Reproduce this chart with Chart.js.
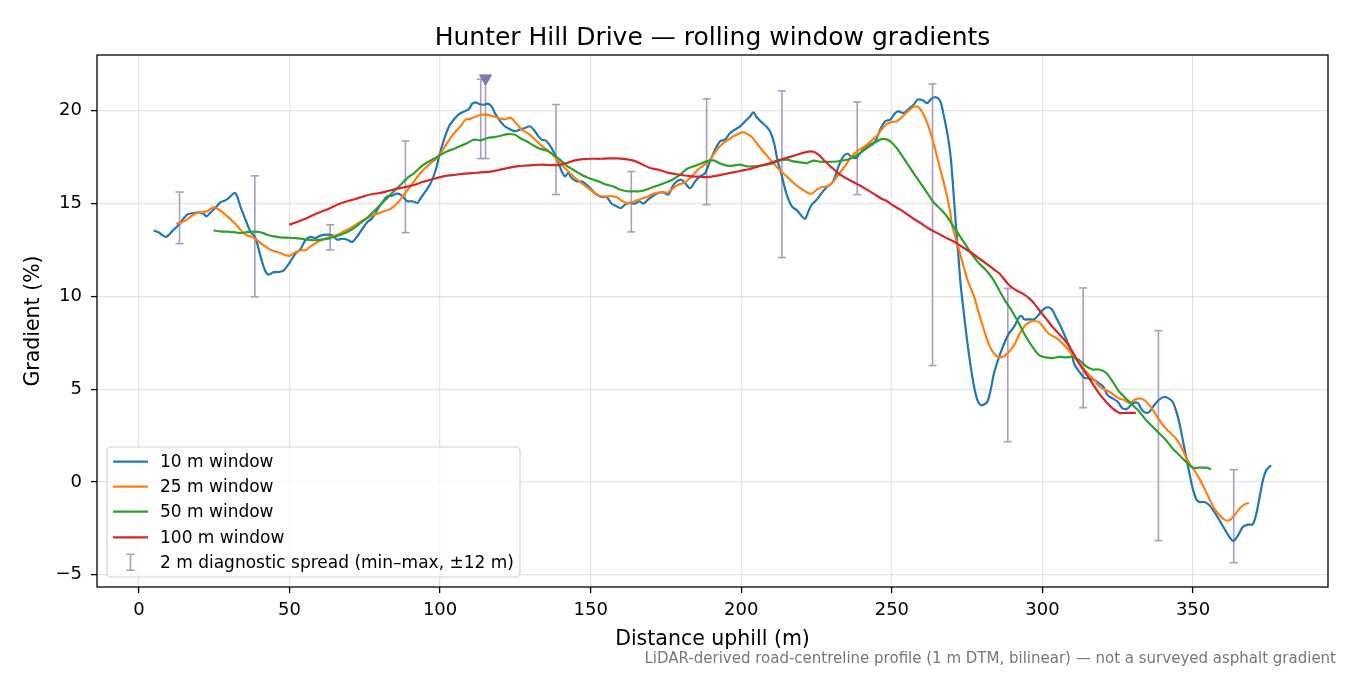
<!DOCTYPE html>
<html>
<head>
<meta charset="utf-8">
<script src="https://cdn.jsdelivr.net/npm/chart.js@4.4.1/dist/chart.umd.min.js"></script>
<style>
  html, body { margin: 0; padding: 0; background: #fff; }
  #wrap { width: 1350px; height: 675px; }
</style>
</head>
<body>
<div id="wrap"><canvas id="c" width="1350" height="675"></canvas></div>
<script>
// ---------------- DATA ----------------
const titleText = "Hunter Hill Drive \u2014 rolling window gradients";
const xAxisTitle = "Distance uphill (m)";
const yAxisTitle = "Gradient (%)";
const footerText = "LiDAR-derived road-centreline profile (1 m DTM, bilinear) \u2014 not a surveyed asphalt gradient";

const xTicks = [0, 50, 100, 150, 200, 250, 300, 350];
const yTicks = [-5, 0, 5, 10, 15, 20];

const seriesNames = ["10 m window", "25 m window", "50 m window", "100 m window"];
const errName = "2 m diagnostic spread (min\u2013max, \u00b112 m)";

const w10X = [4.9,6.5,9.0,11,13.5,16,18.2,19.8,21.5,22.4,23.7,25.4,27,28.7,30.2,31.8,32.6,33.7,35.4,37,38.7,40.4,42,43.1,44.8,46.5,48.1,50.1,52,53.7,55.3,57,58.6,60.3,62.5,64.2,65.9,67.5,69.2,70.8,72.5,74.2,75.8,77.5,79.2,80.8,82.5,84.1,85.6,86.9,88,89.1,90.8,92.5,93.6,95.2,96.9,98.6,99.7,101.3,103,104.7,106.3,108,109.6,110.7,111.8,112.9,114.6,115.7,117.1,118.2,119.6,121.5,123.2,124.9,126.5,128.2,129.8,131,132.3,133.7,135,136.3,137.6,138.9,140.4,141.5,142.6,143.7,145.4,147,148.7,150.3,152,153.7,155.3,157,158.6,160,161.4,163.1,164.7,166.2,167.5,169.2,170.8,172.5,174.1,175.8,177.2,178.6,180.2,181.3,183,184.7,186.3,188,189.6,191.3,193,194.6,196.3,197.9,199.6,201.3,202.9,204,205.1,206.8,208.5,209.8,210.9,212,213.5,215.1,216.8,218.5,220.1,221.2,222.3,223.4,225.1,226.7,228.4,230.1,231.2,232.3,233.9,235.3,236.7,238.2,239.5,241.1,242.8,244.5,246.1,247.8,249.5,251.1,252.2,253.9,255.5,257.2,258.6,260.2,261.7,263.2,264.7,266.1,267.3,268.4,269.5,270.4,271.2,272.1,272.8,273.9,275.1,276.2,277.3,278.4,279.5,280.6,281.7,282.8,283.9,285.6,287.3,288.9,290.6,292.2,293.1,293.9,295.6,297.2,298.7,300,301.7,303.1,304.4,306.1,307.8,309.4,310.5,312.2,313.9,315.5,317.2,318.8,320.2,321.6,323.3,325,326.6,328.3,329.9,331.6,332.7,334,335.5,337.1,338.8,340.5,341.9,343.2,344.3,345.5,346.6,347.7,348.8,349.9,351,352.1,353.8,355.4,357.1,358.8,360.4,362.1,363.4,364.9,366.5,368.2,369.8,371,372.1,373.2,374.3,375.9];
const w10Y = [13.55,13.45,13.2,13.5,13.9,14.4,14.49,14.52,14.45,14.3,14.5,14.76,15.06,15.17,15.35,15.57,15.39,14.85,14.13,13.5,13.14,12.15,11.35,11.17,11.3,11.31,11.4,11.83,12.3,12.55,13.02,13.2,13.14,13.27,13.32,13.29,13.05,13.1,13.05,12.93,13.23,13.63,13.99,14.22,14.67,15.06,15.39,15.42,15.53,15.48,15.3,15.12,15.12,15.03,15.3,15.66,16.1,16.82,17.54,18.44,19.16,19.55,19.82,19.96,20.09,20.38,20.45,20.36,20.32,20.38,20.23,19.87,19.52,19.16,19.0,18.89,18.98,19.07,19.16,19.0,18.7,18.44,18.4,18.17,17.81,17.36,16.73,16.46,16.64,16.37,16.19,16.19,16.01,15.75,15.48,15.35,15.35,14.99,14.85,14.76,14.94,15.03,14.99,15.12,14.99,15.24,15.42,15.57,15.6,15.48,15.92,16.19,16.28,16.1,15.83,16.19,16.46,16.64,17.27,17.9,18.35,18.44,18.8,18.98,19.16,19.43,19.69,19.91,19.66,19.37,19.12,18.8,18.26,17.36,16.46,15.48,14.85,14.63,14.31,14.17,14.58,14.94,15.21,15.57,15.89,16.1,16.46,17.0,17.54,17.68,17.5,17.45,17.72,17.99,18.17,18.35,18.98,19.43,19.52,19.87,19.96,19.87,20.09,20.32,20.6,20.56,20.41,20.65,20.72,20.5,19.69,18.79,17.54,15.74,13.94,12.14,10.7,9.08,7.46,6.2,5.13,4.41,4.14,4.17,4.32,4.95,5.85,6.74,7.46,8.0,8.36,8.87,8.94,8.76,8.76,8.76,8.99,9.26,9.41,9.3,8.9,8.36,7.73,7.1,6.38,5.94,5.61,5.58,5.49,5.31,5.13,4.68,4.5,4.32,3.96,3.96,4.23,4.26,3.96,3.74,3.78,4.14,4.44,4.59,4.5,4.32,3.87,3.15,2.25,1.35,0.45,-0.36,-0.9,-1.08,-1.08,-1.26,-1.62,-2.07,-2.52,-2.97,-3.18,-2.88,-2.43,-2.3,-2.28,-1.71,-0.81,0.09,0.63,0.9];

const w25X = [12.4,14.3,16,17.6,19.3,21,22.6,24.3,25.4,27.1,28.7,30.4,32,33.7,35.4,37,38.7,40.4,42,43.7,45.3,47,48.7,50.1,52,53.7,55.3,57,59.2,61.4,63.6,65.9,68.1,70.3,72.5,74.7,76.9,79.2,81.4,83,84.7,86.4,88,89.7,91.4,93,94.7,96.9,99.1,101.3,103.5,105.2,106.9,108.5,110.2,111.9,113.5,115.7,117.9,120.1,121.8,123.5,125.4,127.1,128.7,130.4,132.1,133.7,135.4,137,138.7,140.4,142,143.7,145.3,147,148.7,150.3,152,153.7,155.3,157,158.6,160.3,162,163.6,165.3,166.9,168.6,170.3,171.9,174.1,175.8,177.5,179.1,180.8,182.4,184.1,185.8,187.4,189.1,190.8,192.4,194.1,195.8,197.4,199.1,200.5,201.9,203.5,205.1,206.8,208.5,210.1,211.8,213.5,215.1,216.8,218.4,220.1,221.8,223.4,225.1,226.7,228.4,230.1,231.7,233.4,235.1,236.7,238.4,240.1,241.7,243.4,245.1,246.7,248.3,250,251.7,253.3,255,256.7,258.3,259.6,261.1,262.7,264.4,266.1,267.8,269.2,270.1,271.7,273.4,275.1,277.3,278.9,280.6,282.3,283.9,285.6,287.3,288.9,290.6,292.2,293.9,295.6,297.2,298.9,300.6,302.2,303.9,305.5,307.2,308.9,310.5,312.2,313.9,315.5,317.2,318.8,320.5,322.2,323.8,325.5,327.2,328.8,330.5,332.2,333.8,335.5,337.1,338.8,340.5,342.1,343.8,345.5,347.1,348.8,350.4,352.1,353.8,355.4,357.1,358.8,360.4,362.1,363.7,365.4,367.1,368.5];
const w25Y = [13.91,13.99,14.13,14.34,14.49,14.52,14.58,14.76,14.78,14.61,14.4,14.16,13.91,13.59,13.32,13.23,13.09,12.87,12.69,12.51,12.42,12.33,12.21,12.19,12.37,12.48,12.48,12.69,12.91,13.09,13.2,13.32,13.5,13.68,13.91,14.13,14.31,14.45,14.58,14.67,14.85,15.12,15.48,15.83,16.19,16.55,16.86,17.18,17.45,17.99,18.53,18.89,19.19,19.52,19.57,19.69,19.78,19.77,19.69,19.57,19.55,19.62,19.3,18.98,18.83,18.62,18.35,18.11,17.9,17.68,17.4,17.09,16.82,16.55,16.32,16.1,15.89,15.69,15.48,15.39,15.39,15.39,15.35,15.15,15.03,15.06,15.17,15.26,15.35,15.48,15.57,15.6,15.6,15.83,16.01,16.1,16.28,16.55,16.86,17.04,17.27,17.63,17.99,18.26,18.44,18.62,18.76,18.83,18.76,18.58,18.26,17.9,17.58,17.27,16.97,16.68,16.46,16.19,15.96,15.78,15.6,15.53,15.75,15.89,15.92,16.1,16.43,16.79,17.18,17.54,17.81,17.99,18.17,18.4,18.65,19.01,19.28,19.39,19.43,19.65,19.92,20.15,20.23,20.05,19.6,18.89,17.9,16.82,15.75,14.7,13.76,12.86,11.87,10.88,9.98,9.08,8.18,7.37,6.92,6.71,6.78,7.01,7.37,7.91,8.36,8.6,8.67,8.6,8.27,7.97,7.82,7.64,7.37,7.07,6.74,6.38,6.06,5.76,5.49,5.16,4.98,4.86,4.68,4.5,4.41,4.26,4.41,4.5,4.41,4.14,3.78,3.33,2.97,2.7,2.43,2.07,1.53,0.99,0.63,0.18,-0.36,-0.9,-1.44,-1.8,-2.03,-2.07,-1.8,-1.44,-1.21,-1.12];

const w50X = [24.8,27.1,29.3,31.5,33.7,35.9,38.1,40.4,42.6,44.8,47,49.2,51.4,53.7,55.9,58.1,60.3,62.5,64.7,67,69.2,71.4,73.6,75.8,78,80.3,82.5,84.7,86.9,89.1,91.4,93.6,95.8,98,100.2,102.4,104.7,106.9,109.1,111.3,113.5,115.7,117.9,120.2,122.5,124.9,126.5,128.7,131,133.2,135.4,137.6,139.8,142,144.2,146.5,148.7,150.9,153.1,155.3,157.5,159.7,162,164.2,166.4,168.6,170.8,173,175.2,177.5,179.7,181.9,184.1,186.3,188.5,190.8,193,195.2,197.4,199.6,201.8,204,206.3,208.5,210.7,212.9,215.1,217.3,219.5,221.8,224,226.2,228.4,230.6,232.8,235.1,237.3,239.5,241.7,243.9,246.1,247.8,249.5,251.1,252.8,255,257.2,259.5,261.7,263.9,266.1,268.3,270.1,272.3,274.5,276.7,278.9,281.2,283.4,285.6,287.8,290,292.2,294.5,296.7,298.9,301.1,303.3,305.5,307.8,310,312.2,314.4,316.6,318.8,321.1,323.3,325.5,327.7,329.9,332.2,334.4,336.6,338.8,341,343.2,345.5,347.7,349.9,352.1,354.3,356];
const w50Y = [13.55,13.5,13.48,13.46,13.41,13.46,13.48,13.45,13.32,13.23,13.18,13.16,13.14,13.11,13.05,13.02,13.05,13.09,13.2,13.32,13.46,13.68,13.95,14.22,14.58,14.94,15.3,15.66,16.01,16.37,16.64,16.97,17.22,17.41,17.63,17.81,17.95,18.11,18.26,18.44,18.4,18.53,18.58,18.65,18.74,18.7,18.53,18.35,18.13,17.95,17.85,17.63,17.36,17.04,16.82,16.59,16.41,16.28,16.16,16.01,15.92,15.75,15.66,15.66,15.66,15.75,15.89,16.01,16.14,16.32,16.55,16.86,17.0,17.13,17.27,17.32,17.15,17.04,17.04,17.09,17.0,17.0,17.04,17.09,17.18,17.32,17.36,17.27,17.22,17.18,17.31,17.25,17.25,17.25,17.29,17.36,17.5,17.72,17.99,18.22,18.44,18.47,18.35,18.08,17.72,17.18,16.64,16.1,15.57,15.06,14.7,14.3,13.85,13.31,12.77,12.23,11.78,11.42,10.97,10.34,9.71,9.17,8.54,7.82,7.28,6.83,6.71,6.67,6.74,6.71,6.74,6.56,6.24,6.06,6.06,5.88,5.4,4.86,4.5,4.14,3.78,3.33,2.97,2.61,2.25,1.8,1.44,1.08,0.77,0.77,0.77,0.68];

const w100X = [49.9,52.5,55.3,58.1,60.9,63.6,66.4,69.2,72,74.7,77.5,80.3,83,85.8,88.6,91.4,94.1,96.9,99.7,102.4,105.2,108,110.8,113.5,116.3,119.1,121.8,125.4,128.2,131,133.7,136.5,139.3,142,144.8,147.6,150.3,153.1,155.9,158.6,161.4,164.2,166.9,169.7,172.5,175.2,178,180.8,183.5,186.3,189.1,191.9,194.6,197.4,200.2,202.9,205.7,208.5,211.2,214,216.8,219.5,222.3,224,225.6,227.3,229,230.6,232.8,235.1,237.3,239.5,241.7,243.9,246.1,248.4,250.6,252.8,255,257.2,259.5,261.7,263.9,266.1,268.8,270.1,272.3,274.5,276.7,278.9,281.2,283.4,285.6,287.3,288.9,291.1,293.3,295.6,297.2,298.9,301.1,303.3,305.5,307.8,310,312.2,314.4,316.6,318.8,321.1,323.3,325.5,327.7,329.9,331];
const w100Y = [13.86,14.0,14.18,14.4,14.58,14.76,14.97,15.12,15.24,15.39,15.51,15.57,15.69,15.8,15.89,16.0,16.16,16.28,16.41,16.5,16.55,16.61,16.64,16.68,16.7,16.79,16.89,17.0,17.04,17.07,17.09,17.07,17.07,17.18,17.32,17.39,17.41,17.41,17.43,17.43,17.39,17.31,17.13,16.91,16.82,16.68,16.59,16.52,16.46,16.43,16.43,16.5,16.59,16.68,16.77,16.86,17.0,17.13,17.27,17.41,17.54,17.68,17.79,17.79,17.63,17.36,17.09,16.86,16.55,16.34,16.14,15.96,15.75,15.53,15.3,15.12,14.88,14.67,14.43,14.18,13.95,13.71,13.5,13.32,13.09,12.99,12.77,12.54,12.32,12.05,11.78,11.51,11.24,10.92,10.61,10.34,10.16,9.89,9.62,9.26,8.81,8.36,7.97,7.55,7.01,6.38,5.84,5.31,4.77,4.32,3.96,3.72,3.72,3.72,3.72];

// 2 m diagnostic spread (min / max), every 25 m plus the steepest point
const errX  = [13.5, 38.5, 63.5, 88.5, 113.5, 115.1, 138.5, 163.5, 188.5, 213.5, 238.5, 263.5, 288.5, 313.5, 338.5, 363.5];
const errLo = [12.84, 9.97, 12.5, 13.43, 17.42, 17.42, 15.48, 13.47, 14.94, 12.09, 15.48, 6.27, 2.17, 4.0, -3.16, -4.35];
const errHi = [15.62, 16.49, 13.85, 18.37, 21.7, 21.7, 20.33, 16.72, 20.64, 21.07, 20.47, 21.44, 10.43, 10.45, 8.15, 0.66];

const peakX = [115.1];
const peakY = [21.74];

const xMin = -13.9, xMax = 394.8;
const yMin = -5.66, yMax = 23.0;

// ---------------- STYLE ----------------
const FONT = "'DejaVu Sans', sans-serif";
const colors = ["#1f77b4", "#ff7f0e", "#2ca02c", "#d62728"];
const errColor = "#a99dc5";
const peakColor = "#8877aa";

function pts(xs, ys) { return xs.map((x, i) => ({ x: x, y: ys[i] })); }
function errPts() {
  const out = [];
  errX.forEach((x, i) => {
    out.push({ x: x, y: errLo[i] });
    out.push({ x: x, y: errHi[i] });
    out.push({ x: x, y: null });
  });
  return out;
}
function fmt(v) { return v < 0 ? "\u2212" + Math.abs(v) : String(v); }

const lineSets = [[w10X, w10Y], [w25X, w25Y], [w50X, w50Y], [w100X, w100Y]].map((s, i) => ({
  label: seriesNames[i],
  data: pts(s[0], s[1]),
  borderColor: colors[i],
  backgroundColor: colors[i],
  borderWidth: 2.2,
  pointRadius: 0,
  tension: 0.3,
  fill: false,
  order: 4 - i
}));

const errSet = {
  label: errName,
  data: errPts(),
  borderColor: errColor,
  backgroundColor: errColor,
  borderWidth: 1.6,
  pointStyle: "line",
  pointRadius: 4,
  pointBorderWidth: 1.6,
  pointBorderColor: errColor,
  spanGaps: false,
  tension: 0,
  order: 10
};

const peakSet = {
  label: "steepest",
  data: pts(peakX, peakY),
  showLine: false,
  pointStyle: "triangle",
  rotation: 180,
  pointRadius: 7,
  backgroundColor: peakColor,
  borderColor: peakColor,
  borderWidth: 1,
  order: 0
};

const framePlugin = {
  id: "frame",
  afterDatasetsDraw(chart) {
    const { ctx, chartArea: a } = chart;
    ctx.save();
    ctx.strokeStyle = "#000";
    ctx.lineWidth = 1.3;
    ctx.strokeRect(a.left, a.top, a.right - a.left, a.bottom - a.top);
    ctx.restore();
  }
};

const legendPlugin = {
  id: "mplLegend",
  afterDraw(chart) {
    const ctx = chart.ctx;
    const bx = 107, by = 447, bw = 413, bh = 130, r = 4;
    ctx.save();
    ctx.beginPath();
    ctx.moveTo(bx + r, by);
    ctx.arcTo(bx + bw, by, bx + bw, by + bh, r);
    ctx.arcTo(bx + bw, by + bh, bx, by + bh, r);
    ctx.arcTo(bx, by + bh, bx, by, r);
    ctx.arcTo(bx, by, bx + bw, by, r);
    ctx.closePath();
    ctx.fillStyle = "rgba(255,255,255,0.8)";
    ctx.fill();
    ctx.strokeStyle = "#d4d4d4";
    ctx.lineWidth = 1.2;
    ctx.stroke();
    const rows = [461.7, 486.7, 511.7, 537.3, 562.3];
    ctx.font = "17px " + FONT;
    ctx.textBaseline = "middle";
    ctx.fillStyle = "#000";
    seriesNames.forEach((n, i) => {
      ctx.beginPath();
      ctx.moveTo(113, rows[i]);
      ctx.lineTo(148, rows[i]);
      ctx.strokeStyle = colors[i];
      ctx.lineWidth = 2.2;
      ctx.stroke();
      ctx.fillText(n, 160, rows[i] + 1);
    });
    const ey = rows[4];
    ctx.strokeStyle = errColor;
    ctx.lineWidth = 1.6;
    ctx.beginPath();
    ctx.moveTo(130.5, ey - 8); ctx.lineTo(130.5, ey + 8);
    ctx.moveTo(126.5, ey - 8); ctx.lineTo(134.5, ey - 8);
    ctx.moveTo(126.5, ey + 8); ctx.lineTo(134.5, ey + 8);
    ctx.stroke();
    ctx.fillText(errName, 160, ey + 1);
    // footer note
    ctx.font = "15px " + FONT;
    ctx.fillStyle = "#777";
    ctx.textAlign = "right";
    ctx.fillText(footerText, 1336, 659);
    ctx.restore();
  }
};

new Chart(document.getElementById("c"), {
  type: "line",
  data: { datasets: [...lineSets, errSet, peakSet] },
  options: {
    responsive: false,
    animation: false,
    devicePixelRatio: 1,
    layout: { padding: { left: 0, right: 22, top: 0, bottom: 0 } },
    plugins: {
      legend: { display: false },
      tooltip: { enabled: false },
      title: {
        display: true,
        fullSize: false,
        text: titleText,
        color: "#000",
        font: { family: FONT, size: 25, weight: "normal" },
        padding: { top: 23, bottom: 2 }
      }
    },
    scales: {
      x: {
        type: "linear",
        min: xMin, max: xMax,
        afterBuildTicks: s => { s.ticks = xTicks.map(v => ({ value: v })); },
        afterFit: s => { s.height = 88; },
        grid: { color: "rgba(176,176,176,0.33)", lineWidth: 1.2, drawTicks: true, tickLength: 6, tickColor: "#000", tickWidth: 1.3 },
        border: { display: false },
        ticks: { color: "#000", font: { family: FONT, size: 18 }, padding: 7, maxRotation: 0, autoSkip: false, callback: v => fmt(v) },
        title: { display: true, text: xAxisTitle, color: "#000", font: { family: FONT, size: 20.5 }, padding: { top: 0, bottom: 23 } }
      },
      y: {
        type: "linear",
        min: yMin, max: yMax,
        afterBuildTicks: s => { s.ticks = yTicks.map(v => ({ value: v })); },
        afterFit: s => { s.width = 97; },
        grid: { color: "rgba(176,176,176,0.33)", lineWidth: 1.2, drawTicks: true, tickLength: 6, tickColor: "#000", tickWidth: 1.3 },
        border: { display: false },
        ticks: { color: "#000", font: { family: FONT, size: 18 }, padding: 9, autoSkip: false, callback: v => fmt(v) },
        title: { display: true, text: yAxisTitle, color: "#000", font: { family: FONT, size: 20.5 }, padding: { top: 21, bottom: 0 } }
      }
    }
  },
  plugins: [framePlugin, legendPlugin]
});
</script>
</body>
</html>
